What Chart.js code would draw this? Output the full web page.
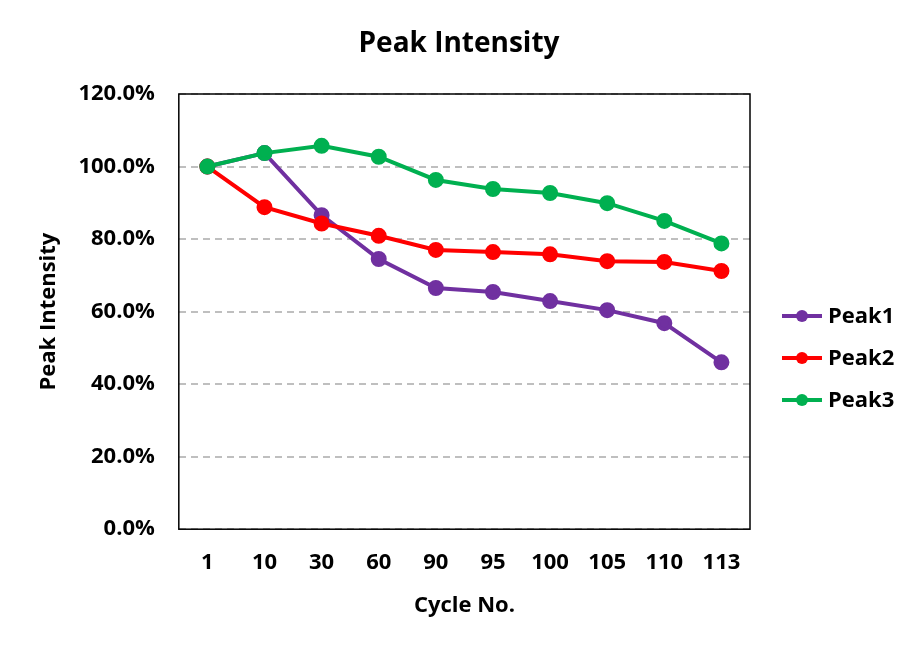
<!DOCTYPE html>
<html>
<head>
<meta charset="utf-8">
<script src="https://cdn.jsdelivr.net/npm/chart.js@4.4.0/dist/chart.umd.min.js"></script>
<style>
  html, body { margin: 0; padding: 0; background: #fff; }
  #wrap { width: 918px; height: 648px; }
</style>
</head>
<body>
<div id="wrap"><canvas id="peakChart"></canvas></div>
<script>
  // data
  var cycles = ["1", "10", "30", "60", "90", "95", "100", "105", "110", "113"];
  var peak1 = [100, 103.7, 86.6, 74.5, 66.5, 65.4, 62.9, 60.4, 56.8, 46.0];
  var peak2 = [100, 88.8, 84.3, 80.9, 77.0, 76.4, 75.8, 73.9, 73.7, 71.2];
  var peak3 = [100, 103.7, 105.7, 102.7, 96.3, 93.8, 92.7, 89.9, 85.0, 78.8];
  var yTicks = [0, 20, 40, 60, 80, 100, 120];
  var chartTitle = "Peak Intensity";

  var fontFam = "'Open Sans', 'DejaVu Sans', sans-serif";

  // later series sit on top (like the Excel original)
  function serie(name, vals, color, order) {
    return {
      label: name,
      data: vals,
      order: order,
      borderColor: color,
      backgroundColor: color,
      pointBackgroundColor: color,
      pointBorderColor: color,
      borderWidth: 4,
      pointRadius: 6,
      pointHoverRadius: 6,
      tension: 0
    };
  }

  // box round the plot area + title centred on the whole canvas
  var frame = {
    id: 'frame',
    afterDatasetsDraw: function(chart) {
      var a = chart.chartArea, c = chart.ctx;
      c.save();
      c.strokeStyle = '#000';
      c.lineWidth = 1.5;
      c.strokeRect(a.left, a.top, a.right - a.left, a.bottom - a.top);
      c.fillStyle = '#000';
      c.font = "bold 28px " + fontFam;
      c.textAlign = 'center';
      c.textBaseline = 'middle';
      c.fillText(chartTitle, chart.width / 2, a.top - 50);
      c.restore();
    }
  };

  // legend on the right: line with a dot, then the name
  var sideLegend = {
    id: 'sideLegend',
    afterDraw: function(chart) {
      var a = chart.chartArea, c = chart.ctx;
      var x0 = a.right + 32;
      chart.data.datasets.forEach(function(ds, i) {
        var y = a.top + 222 + 42 * i;
        c.save();
        c.strokeStyle = ds.borderColor;
        c.fillStyle = ds.borderColor;
        c.lineWidth = 4;
        c.beginPath();
        c.moveTo(x0, y);
        c.lineTo(x0 + 40, y);
        c.stroke();
        c.beginPath();
        c.arc(x0 + 20, y, 6, 0, Math.PI * 2);
        c.fill();
        c.fillStyle = '#000';
        c.font = "bold 22px " + fontFam;
        c.textAlign = 'left';
        c.textBaseline = 'middle';
        c.fillText(ds.label, x0 + 46, y + 1);
        c.restore();
      });
    }
  };

  var ctx = document.getElementById('peakChart').getContext('2d');
  var peakChart = new Chart(ctx, {
    type: 'line',
    data: {
      labels: cycles,
      datasets: [
        serie("Peak1", peak1, "#7030A0", 2),
        serie("Peak2", peak2, "#FF0000", 1),
        serie("Peak3", peak3, "#00B050", 0)
      ]
    },
    options: {
      responsive: true,
      maintainAspectRatio: false,
      animation: false,
      layout: { padding: { left: 36, right: 168, top: 94, bottom: 29 } },
      plugins: {
        title: { display: false },
        legend: { display: false },
        tooltip: { enabled: false }
      },
      scales: {
        x: {
          offset: true,
          grid: { display: false, drawTicks: false },
          border: { display: false },
          ticks: {
            color: '#000',
            padding: 20,
            font: { family: fontFam, size: 22, weight: 'bold' }
          },
          title: {
            display: true,
            text: "Cycle No.",
            color: '#000',
            font: { family: fontFam, size: 22, weight: 'bold' },
            padding: { top: -3, bottom: 0 }
          }
        },
        y: {
          min: 0,
          max: 120,
          afterBuildTicks: function(axis) {
            axis.ticks = yTicks.map(function(v) { return { value: v }; });
          },
          grid: {
            color: '#BFBFBF',
            lineWidth: 2,
            drawTicks: false
          },
          border: { display: false, dash: [7, 5] },
          ticks: {
            color: '#000',
            padding: 24,
            font: { family: fontFam, size: 22, weight: 'bold' },
            callback: function(v) { return v.toFixed(1) + '%'; }
          },
          title: {
            display: true,
            text: "Peak Intensity",
            color: '#000',
            font: { family: fontFam, size: 22, weight: 'bold' },
            padding: { top: 0, bottom: -8 }
          }
        }
      }
    },
    plugins: [frame, sideLegend]
  });
</script>
</body>
</html>
